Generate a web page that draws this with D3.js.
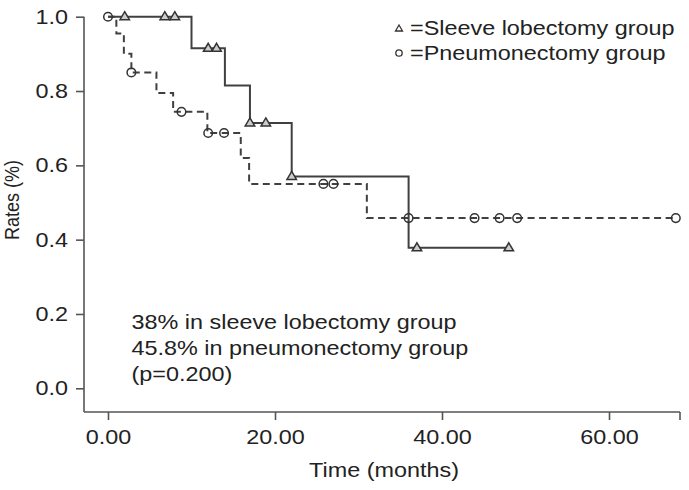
<!DOCTYPE html>
<html>
<head>
<meta charset="utf-8">
<script src="https://cdn.jsdelivr.net/npm/d3@7"></script>
<style>
  html, body { margin: 0; padding: 0; background: #fff; }
  svg { display: block; }
  text { font-family: "Liberation Sans", Arial, Helvetica, sans-serif; fill: #222; }
</style>
</head>
<body>
<svg id="chart" width="689" height="490"></svg>
<script>
// ---- data ----
const sleeveStepTimes = [0, 10, 14, 17, 22, 36, 48];
const sleeveStepRates = [1, 0.915, 0.815, 0.714, 0.57, 0.378, 0.378];
const sleeveCensorTimes = [2, 6.8, 8, 12, 13, 17, 18.9, 22, 37, 48];
const sleeveCensorRates = [1, 1, 1, 0.915, 0.915, 0.714, 0.714, 0.57, 0.378, 0.378];

const pneumoStepTimes = [0, 1, 1.9, 2.8, 5.8, 7.8, 11.9, 15.9, 16.9, 31, 68];
const pneumoStepRates = [1, 0.955, 0.9, 0.85, 0.795, 0.744, 0.687, 0.62, 0.55, 0.458, 0.458];
const pneumoCensorTimes = [0, 2.8, 8.8, 12, 13.9, 25.8, 27, 36, 43.9, 46.9, 49, 68];
const pneumoCensorRates = [1, 0.85, 0.744, 0.687, 0.687, 0.55, 0.55, 0.458, 0.458, 0.458, 0.458, 0.458];

const xTicks = [0, 20, 40, 60];
const xTickLabels = ["0.00", "20.00", "40.00", "60.00"];
const yTicks = [0, 0.2, 0.4, 0.6, 0.8, 1.0];
const yTickLabels = ["0.0", "0.2", "0.4", "0.6", "0.8", "1.0"];
const legendLabels = ["=Sleeve lobectomy group", "=Pneumonectomy group"];
const noteLines = ["38% in sleeve lobectomy group", "45.8% in pneumonectomy group", "(p=0.200)"];
const xTitle = "Time (months)";
const yTitle = "Rates (%)";

// ---- layout ----
const svg = d3.select("#chart");
const FS = 20, SX = 1.17;
const ink = "#404040", axisInk = "#555";
const x = d3.scaleLinear().domain([0, 60]).range([108, 609]);
const y = d3.scaleLinear().domain([0, 1]).range([388.3, 16.7]);
const axisLeftX = 84, axisBottomY = 412, axisRightX = 680;

svg.append("rect").attr("width", 689).attr("height", 490).attr("fill", "#fff");

// axes lines
svg.append("line").attr("x1", axisLeftX).attr("x2", axisLeftX)
  .attr("y1", y(1)).attr("y2", axisBottomY).attr("stroke", axisInk).attr("stroke-width", 1.6);
svg.append("line").attr("x1", axisLeftX).attr("x2", axisRightX)
  .attr("y1", axisBottomY).attr("y2", axisBottomY).attr("stroke", axisInk).attr("stroke-width", 1.6);
svg.append("line").attr("x1", axisRightX).attr("x2", axisRightX)
  .attr("y1", axisBottomY).attr("y2", axisBottomY + 8).attr("stroke", axisInk).attr("stroke-width", 1.6);

// y axis
const gy = svg.append("g").attr("transform", `translate(${axisLeftX},0)`)
  .call(d3.axisLeft(y).tickValues(yTicks).tickSize(8).tickSizeOuter(0).tickPadding(8)
    .tickFormat((d, i) => yTickLabels[i]));
gy.select(".domain").remove();
gy.selectAll(".tick line").attr("stroke", axisInk).attr("stroke-width", 1.6);
gy.selectAll(".tick text").attr("x", 0).attr("transform", `translate(-16,0) scale(${SX},1)`)
  .style("font-size", FS + "px").attr("fill", "#222");

// x axis
const gx = svg.append("g").attr("transform", `translate(0,${axisBottomY})`)
  .call(d3.axisBottom(x).tickValues(xTicks).tickSize(8).tickSizeOuter(0).tickPadding(10)
    .tickFormat((d, i) => xTickLabels[i]));
gx.select(".domain").remove();
gx.selectAll(".tick line").attr("stroke", axisInk).attr("stroke-width", 1.6);
gx.selectAll(".tick text").attr("transform", `scale(${SX},1)`)
  .style("font-size", FS + "px").attr("fill", "#222");

// axis titles
svg.append("text").attr("transform", `translate(384,477) scale(${SX},1)`)
  .attr("text-anchor", "middle").style("font-size", FS + "px").text(xTitle);
svg.append("text").attr("transform", `translate(19,200) scale(${SX},1) rotate(-90)`)
  .attr("text-anchor", "middle").style("font-size", "18px").text(yTitle);

// curves
const line = d3.line().x(d => x(d[0])).y(d => y(d[1])).curve(d3.curveStepAfter);
const sleeve = sleeveStepTimes.map((t, i) => [t, sleeveStepRates[i]]);
const pneumo = pneumoStepTimes.map((t, i) => [t, pneumoStepRates[i]]);

svg.append("path").datum(pneumo).attr("d", line).attr("fill", "none")
  .attr("stroke", ink).attr("stroke-width", 2).attr("stroke-dasharray", "7,4.5");
svg.append("path").datum(sleeve).attr("d", line).attr("fill", "none")
  .attr("stroke", ink).attr("stroke-width", 2);

const tri = (w, h) => `M0,${-h / 2}L${w / 2},${h / 2}L${-w / 2},${h / 2}Z`;

svg.append("g").selectAll("circle")
  .data(pneumoCensorTimes.map((t, i) => [t, pneumoCensorRates[i]]))
  .join("circle").attr("cx", d => x(d[0])).attr("cy", d => y(d[1])).attr("r", 4.3)
  .attr("fill", "none").attr("stroke", "#333").attr("stroke-width", 1.5);

svg.append("g").selectAll("path")
  .data(sleeveCensorTimes.map((t, i) => [t, sleeveCensorRates[i]]))
  .join("path").attr("d", tri(9.5, 8))
  .attr("transform", d => `translate(${x(d[0])},${y(d[1]) - 1})`)
  .attr("fill", "#ccc").attr("stroke", "#333").attr("stroke-width", 1.5);

// legend
svg.append("path").attr("d", tri(7, 6)).attr("transform", "translate(399,28)")
  .attr("fill", "none").attr("stroke", "#333").attr("stroke-width", 1.3);
svg.append("circle").attr("cx", 399).attr("cy", 53).attr("r", 3.2)
  .attr("fill", "none").attr("stroke", "#333").attr("stroke-width", 1.3);
legendLabels.forEach((s, i) => {
  svg.append("text").attr("transform", `translate(410,${35 + i * 25}) scale(${SX},1)`)
    .style("font-size", FS + "px").text(s);
});

// annotation
noteLines.forEach((s, i) => {
  svg.append("text").attr("transform", `translate(131.5,${329 + i * 26}) scale(${SX},1)`)
    .style("font-size", FS + "px").text(s);
});
</script>
</body>
</html>
